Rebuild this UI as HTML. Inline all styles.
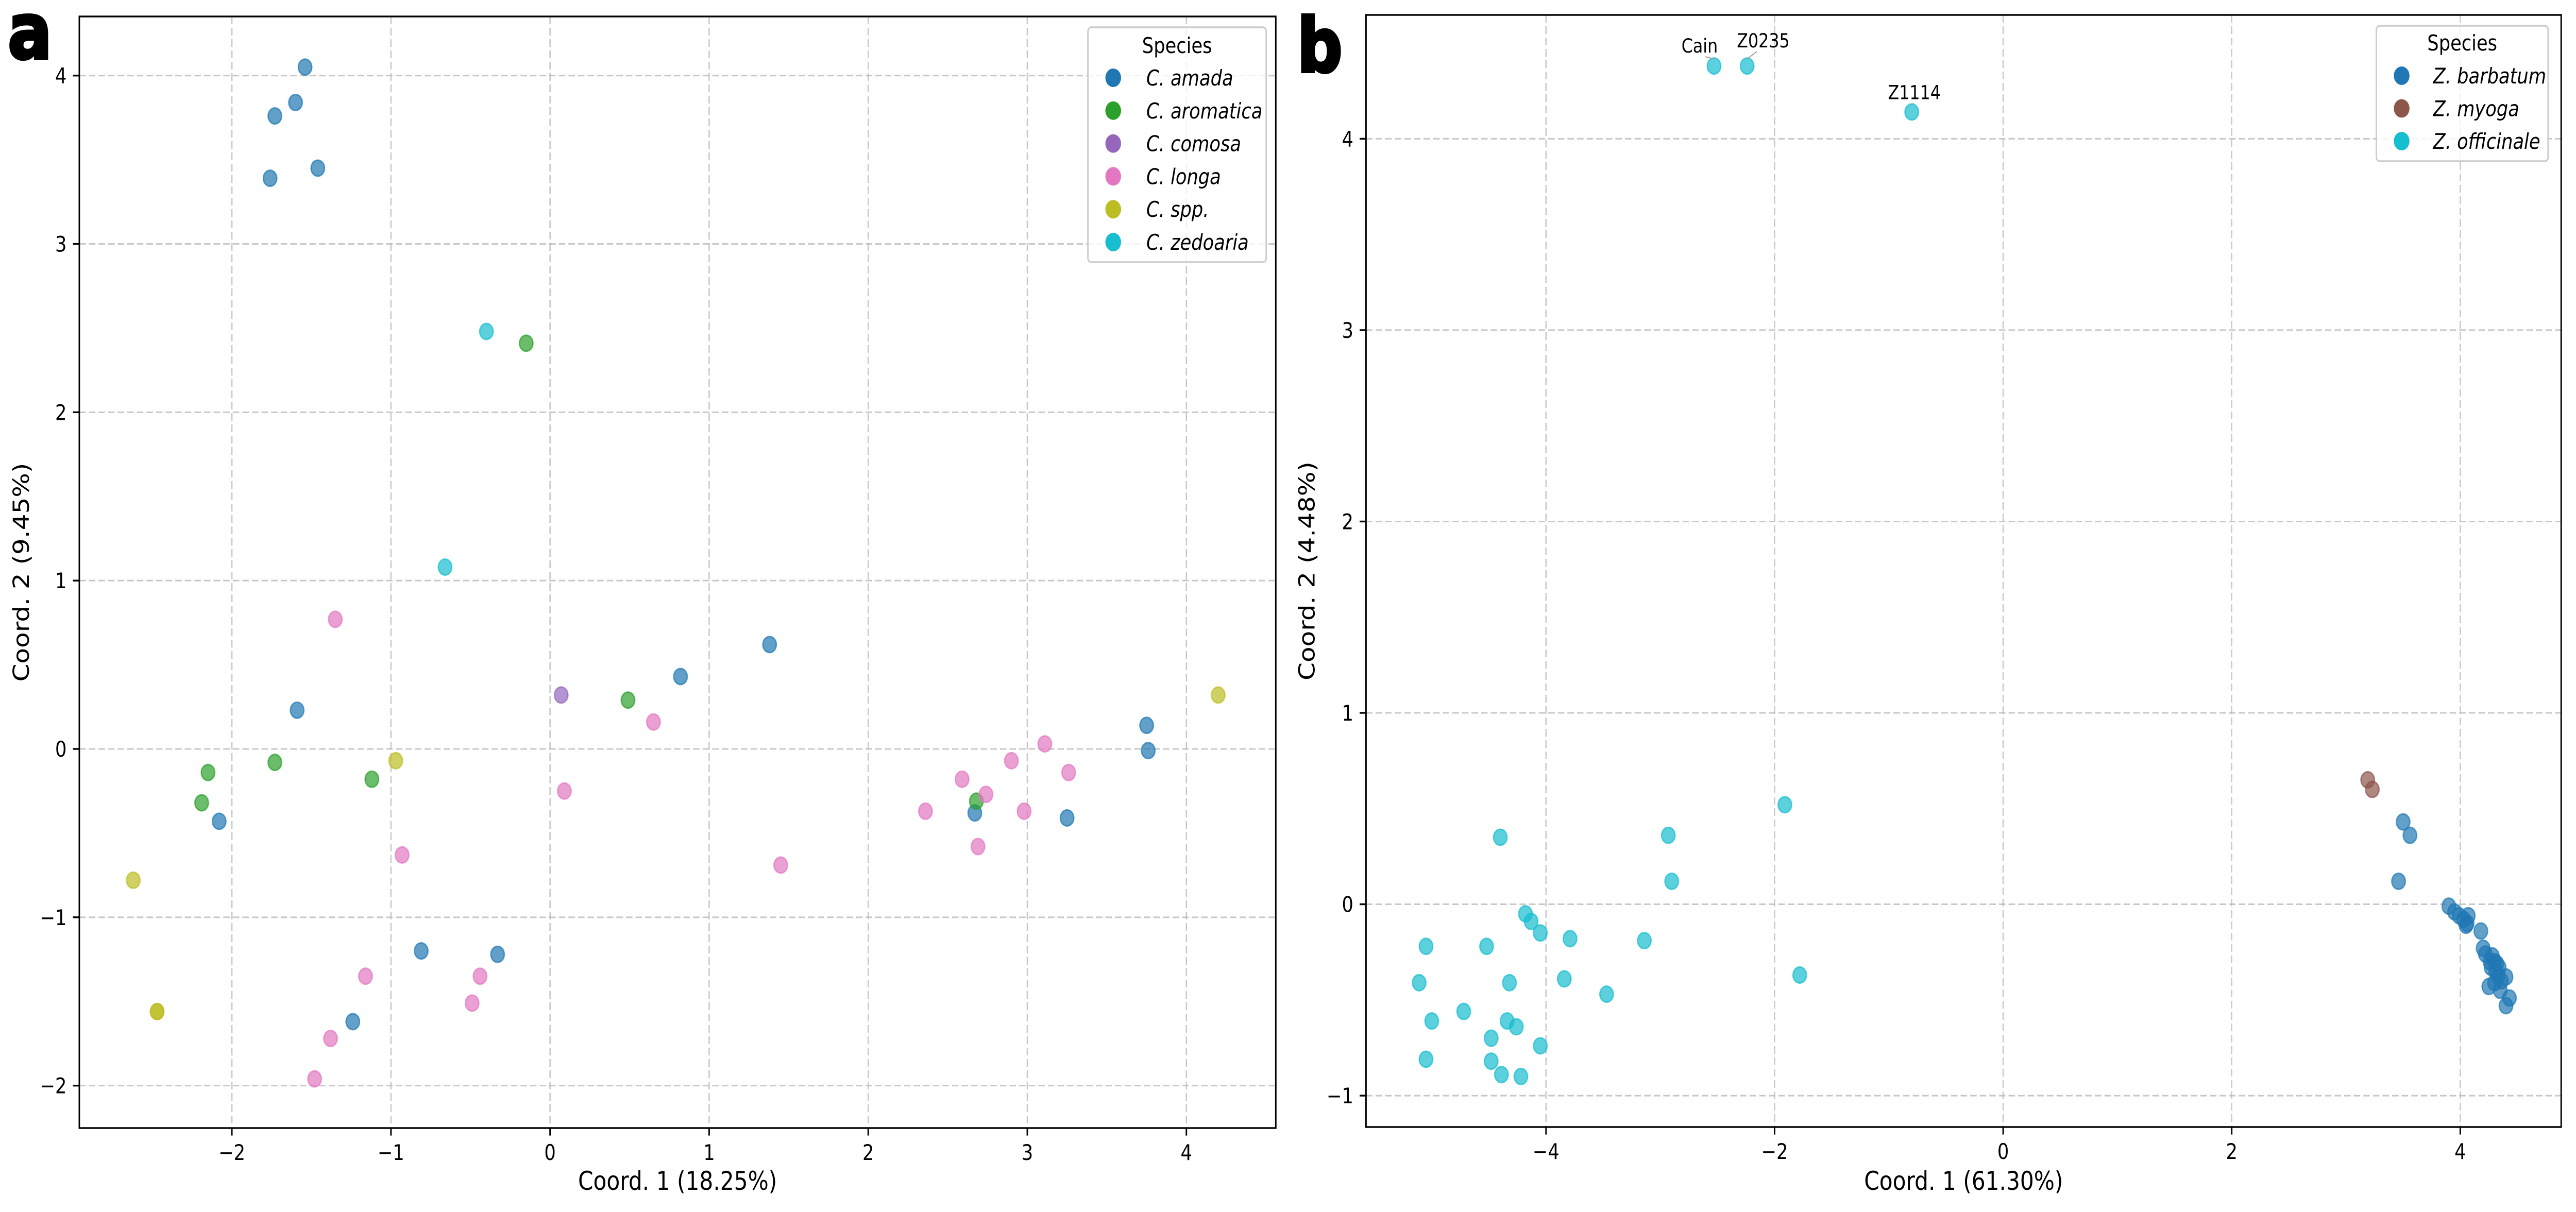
<!DOCTYPE html>
<html><head><meta charset="utf-8">
<style>
html,body{margin:0;padding:0;background:#fff;width:100%;height:100%;overflow:hidden;}
svg{display:block;position:fixed;left:0;top:0;width:100vw;height:100vh;font-family:"DejaVu Sans","Liberation Sans",sans-serif;}
</style></head>
<body>
<svg id="fig" xmlns="http://www.w3.org/2000/svg" viewBox="0 0 5910 2353" preserveAspectRatio="none">
<rect x="0" y="0" width="5910" height="2353" fill="#fff"/>
<text x="18" y="113" font-size="150" font-weight="bold" stroke="#000" stroke-width="6">a</text>
<text x="2976" y="139" font-size="145" font-weight="bold" stroke="#000" stroke-width="6">b</text>
</svg>
<script>
// ---- Panel a data ----
const aSpecies = ["C. amada","C. aromatica","C. comosa","C. longa","C. spp.","C. zedoaria"];
const aColors = ["#1f77b4","#2ca02c","#9467bd","#e377c2","#bcbd22","#17becf"];
const aAmadaX = [-1.54,-1.60,-1.73,-1.46,-1.76,-1.59,1.38,0.82,3.75,3.76,-2.08,2.67,3.25,-0.81,-0.33,-1.24];
const aAmadaY = [4.05,3.84,3.76,3.45,3.39,0.23,0.62,0.43,0.14,-0.01,-0.43,-0.38,-0.41,-1.20,-1.22,-1.62];
const aAromX = [-0.15,0.49,-2.15,-1.73,-2.19,-1.12,2.68];
const aAromY = [2.41,0.29,-0.14,-0.08,-0.32,-0.18,-0.31];
const aComX = [0.07];
const aComY = [0.32];
const aLongaX = [-1.35,0.65,0.09,-0.93,1.45,2.36,2.59,2.74,2.69,2.90,3.11,3.26,2.98,-1.16,-0.44,-0.49,-1.38,-1.48];
const aLongaY = [0.77,0.16,-0.25,-0.63,-0.69,-0.37,-0.18,-0.27,-0.58,-0.07,0.03,-0.14,-0.37,-1.35,-1.35,-1.51,-1.72,-1.96];
const aSppX = [4.20,-0.97,-2.62,-2.47,-2.47];
const aSppY = [0.32,-0.07,-0.78,-1.56,-1.56];
const aZedX = [-0.40,-0.66];
const aZedY = [2.48,1.08];
const aXTicks = [-2,-1,0,1,2,3,4];
const aYTicks = [-2,-1,0,1,2,3,4];

// ---- Panel b data ----
const bSpecies = ["Z. barbatum","Z. myoga","Z. officinale"];
const bColors = ["#1f77b4","#8c564b","#17becf"];
const bBarbX = [3.50,3.56,3.46,3.90,3.95,3.99,4.03,4.06,4.07,4.05,4.18,4.20,4.22,4.26,4.28,4.30,4.27,4.31,4.25,4.30,4.33,4.36,4.35,4.40,4.40,4.43,4.32,4.34];
const bBarbY = [0.43,0.36,0.12,-0.01,-0.04,-0.06,-0.08,-0.10,-0.06,-0.11,-0.14,-0.23,-0.26,-0.30,-0.27,-0.30,-0.33,-0.35,-0.43,-0.41,-0.37,-0.40,-0.45,-0.38,-0.53,-0.49,-0.31,-0.33];
const bMyoX = [3.19,3.23];
const bMyoY = [0.65,0.60];
const bOffX = [-2.53,-2.24,-0.80,-4.40,-1.91,-2.93,-2.90,-3.14,-1.78,-4.18,-4.13,-4.05,-3.79,-4.52,-5.05,-5.11,-4.32,-3.84,-3.47,-4.72,-5.00,-4.34,-4.26,-4.48,-4.05,-4.48,-4.39,-4.22,-5.05];
const bOffY = [4.38,4.38,4.14,0.35,0.52,0.36,0.12,-0.19,-0.37,-0.05,-0.09,-0.15,-0.18,-0.22,-0.22,-0.41,-0.41,-0.39,-0.47,-0.56,-0.61,-0.61,-0.64,-0.70,-0.74,-0.82,-0.89,-0.90,-0.81];
const bLabels = ["Cain","Z0235","Z1114"];
const bXTicks = [-4,-2,0,2,4];
const bYTicks = [-1,0,1,2,3,4];

const NS = "http://www.w3.org/2000/svg";
const svg = document.getElementById("fig");
function mk(tag, attrs, parent){
  const e = document.createElementNS(NS, tag);
  for (const k in attrs) e.setAttribute(k, attrs[k]);
  (parent||svg).appendChild(e);
  return e;
}
function scale(d0,d1,r0,r1){ return v => r0 + (v-d0)*(r1-r0)/(d1-d0); }

function panel(cfg){
  const g = mk("g", {});
  
  
  const X = scale(cfg.xd[0], cfg.xd[1], cfg.L, cfg.R);
  const Y = scale(cfg.yd[0], cfg.yd[1], cfg.B, cfg.T);
  cfg.xt.forEach(t => {
    const l = mk("line", {x1:X(t), x2:X(t), y1:cfg.T, y2:cfg.B, stroke:"#b0b0b0", "stroke-opacity":"0.7", "stroke-width":"3", "stroke-dasharray":"15 7"}, g);
    
    
  });
  cfg.yt.forEach(t => {
    const l = mk("line", {x1:cfg.L, x2:cfg.R, y1:Y(t), y2:Y(t), stroke:"#b0b0b0", "stroke-opacity":"0.7", "stroke-width":"3", "stroke-dasharray":"15 7"}, g);
    
    
  });
  cfg.series.forEach((s, si) => {
    const sg = mk("g", {}, g);
    
    
    s.x.forEach((xv, i) => {
      const c = mk("circle", {cx:X(xv), cy:Y(s.y[i]), r:15.5, fill:s.color, "fill-opacity":"0.7", stroke:s.color, "stroke-opacity":"0.7", "stroke-width":"3"}, sg);
      
      
    });
  });
  (cfg.annots||[]).forEach(a => {
    const px = X(a.x), py = Y(a.y);
    const ln = mk("line", {x1:px + a.dx*0.6, y1:py + a.dy + 8, x2:px, y2:py-14, stroke:"#999", "stroke-width":"2"}, g);
    
    
    const t = mk("text", {x:px + a.dx, y:py + a.dy, "font-size":"37.5", "text-anchor":"middle", fill:"#000"}, g);
    t.textContent = a.label;
    
    
  });
  const fr = mk("rect", {x:cfg.L, y:cfg.T, width:cfg.R-cfg.L, height:cfg.B-cfg.T, fill:"none", stroke:"#000", "stroke-width":"3.4"}, g);
  
  
  cfg.xt.forEach(t => {
    const tk = mk("line", {x1:X(t), x2:X(t), y1:cfg.B, y2:cfg.B+14.6, stroke:"#000", "stroke-width":"3.4"}, g);
    
    
    const tl = mk("text", {x:X(t), y:cfg.B+62, "font-size":"41.7", "text-anchor":"middle"}, g);
    tl.textContent = t < 0 ? "\u2212" + Math.abs(t) : String(t);
    
    
  });
  cfg.yt.forEach(t => {
    const tk = mk("line", {x1:cfg.L-14.6, x2:cfg.L, y1:Y(t), y2:Y(t), stroke:"#000", "stroke-width":"3.4"}, g);
    
    
    const tl = mk("text", {x:cfg.L-29, y:Y(t)+15, "font-size":"41.7", "text-anchor":"end"}, g);
    tl.textContent = t < 0 ? "\u2212" + Math.abs(t) : String(t);
    
    
  });
  const xl = mk("text", {x:(cfg.L+cfg.R)/2, y:2310, "font-size":"50", "text-anchor":"middle"}, g);
  xl.textContent = cfg.xlabel;
  
  
  const yx = cfg.ylx, yy = (cfg.T+cfg.B)/2;
  const yl = mk("text", {x:yx, y:yy, "font-size":"50", "text-anchor":"middle", transform:"rotate(-90 "+yx+" "+yy+")"}, g);
  yl.textContent = cfg.ylabel;
  
  
  const lg = cfg.legend;
  const lgG = mk("g", {}, g);
  
  
  mk("rect", {x:lg.x, y:lg.y, width:lg.w, height:lg.h, rx:8, fill:"#fff", "fill-opacity":"0.8", stroke:"#cccccc", "stroke-width":"3.4"}, lgG);
  const tt = mk("text", {x:lg.x+lg.w/2, y:lg.titleY, "font-size":"41.7", "text-anchor":"middle"}, lgG);
  tt.textContent = "Species";
  
  
  cfg.series.forEach((s, i) => {
    const cy = lg.firstY + i*lg.step;
    const eg = mk("g", {}, lgG);
    
    
    mk("circle", {cx:lg.mx, cy:cy, r:18, fill:s.color}, eg);
    const t = mk("text", {x:lg.tx, y:cy+15, "font-size":"41.7", "font-style":"italic"}, eg);
    t.textContent = s.name;
  });
}

panel({
  name:"panel-a", L:182, R:2927, T:32, B:2190,
  xd:[-2.959, 4.562], yd:[-2.252, 4.351],
  xt:aXTicks, yt:aYTicks,
  xlabel:"Coord. 1 (18.25%)", ylabel:"Coord. 2 (9.45%)", ylx:66,
  series:[
    {name:aSpecies[0], color:aColors[0], x:aAmadaX, y:aAmadaY},
    {name:aSpecies[1], color:aColors[1], x:aAromX, y:aAromY},
    {name:aSpecies[2], color:aColors[2], x:aComX, y:aComY},
    {name:aSpecies[3], color:aColors[3], x:aLongaX, y:aLongaY},
    {name:aSpecies[4], color:aColors[4], x:aSppX, y:aSppY},
    {name:aSpecies[5], color:aColors[5], x:aZedX, y:aZedY}
  ],
  legend:{x:2496, y:53, w:409, h:456, titleY:103, firstY:151, step:63.8, mx:2554, tx:2630}
});

panel({
  name:"panel-b", L:3134, R:5876, T:29, B:2188,
  xd:[-5.575, 4.883], yd:[-1.164, 4.647],
  xt:bXTicks, yt:bYTicks,
  xlabel:"Coord. 1 (61.30%)", ylabel:"Coord. 2 (4.48%)", ylx:3016,
  series:[
    {name:bSpecies[0], color:bColors[0], x:bBarbX, y:bBarbY},
    {name:bSpecies[1], color:bColors[1], x:bMyoX, y:bMyoY},
    {name:bSpecies[2], color:bColors[2], x:bOffX, y:bOffY}
  ],
  annots:[
    {label:bLabels[0], x:bOffX[0], y:bOffY[0], dx:-33, dy:-26},
    {label:bLabels[1], x:bOffX[1], y:bOffY[1], dx:37, dy:-36},
    {label:bLabels[2], x:bOffX[2], y:bOffY[2], dx:6, dy:-25}
  ],
  legend:{x:5452, y:50, w:394, h:263, titleY:98, firstY:147, step:63.5, mx:5510, tx:5582}
});
</script>
</body></html>
